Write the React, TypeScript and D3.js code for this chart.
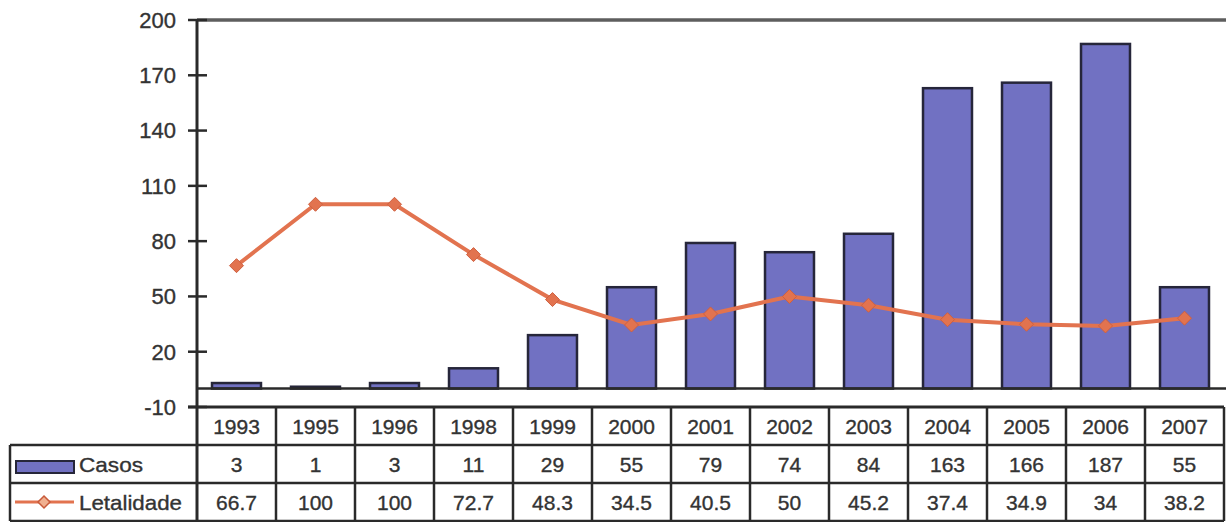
import React from "react";
import * as d3 from "d3";

const years = ["1993","1995","1996","1998","1999","2000","2001","2002","2003","2004","2005","2006","2007"];
const casos = [3,1,3,11,29,55,79,74,84,163,166,187,55];
const letalidade = [66.7,100,100,72.7,48.3,34.5,40.5,50,45.2,37.4,34.9,34,38.2];
const yTicks = [-10,20,50,80,110,140,170,200];
const seriesNames = ["Casos","Letalidade"];

const W = 1226, H = 522;
const BAR = "#7171c2";
const LINE = "#e2734f";
const INK = "#2a2a2a";
const FONT = "'Liberation Sans', Arial, sans-serif";

export default function App() {
  const x = d3.scaleBand<string>().domain(years).range([197, 1224]).paddingInner(0.38).paddingOuter(0.19);
  const y = d3.scaleLinear().domain([-10, 200]).range([407, 20]);
  const colW = (1224 - 197) / years.length;
  const rows = [407, 445, 483, 521];
  const line = d3.line<number>().x((_, i) => x(years[i])! + x.bandwidth() / 2).y(d => y(d));
  const diamond = (cx: number, cy: number, r: number) => `M${cx},${cy - r}L${cx + r},${cy}L${cx},${cy + r}L${cx - r},${cy}Z`;
  const txt = { fill: "#333", stroke: "#333", strokeWidth: 0.35 };

  return (
    <svg width={W} height={H} style={{ position: "absolute", left: 0, top: 0, background: "#fff" }} fontFamily={FONT}>
      <line x1={197} x2={W} y1={y(200)} y2={y(200)} stroke="#5e5e5e" strokeWidth={3.5} />
      {casos.map((v, i) => (
        <rect key={years[i]} x={x(years[i])} y={y(v)} width={x.bandwidth()} height={y(0) - y(v)}
          fill={BAR} stroke="#26263a" strokeWidth={2.5} />
      ))}
      <line x1={197} x2={W} y1={y(0)} y2={y(0)} stroke={INK} strokeWidth={2.5} />
      <path d={line(letalidade)!} fill="none" stroke={LINE} strokeWidth={4} />
      {letalidade.map((v, i) => (
        <path key={i} d={diamond(x(years[i])! + x.bandwidth() / 2, y(v), 7)} fill={LINE} stroke="#cf6040" strokeWidth={1} />
      ))}
      <line x1={197} x2={197} y1={y(200)} y2={521} stroke={INK} strokeWidth={3} />
      {yTicks.map(t => (
        <g key={t}>
          <line x1={188} x2={207} y1={y(t)} y2={y(t)} stroke={INK} strokeWidth={2.5} />
          <text x={176} y={y(t)} dy="0.36em" textAnchor="end" fontSize={22} {...txt}>{t}</text>
        </g>
      ))}
      <line x1={188} x2={1224} y1={rows[0]} y2={rows[0]} stroke={INK} strokeWidth={3} />
      {rows.slice(1).map(r => (
        <line key={r} x1={10} x2={1224} y1={r} y2={r} stroke={INK} strokeWidth={2.5} />
      ))}
      <line x1={10} x2={10} y1={rows[1]} y2={rows[3]} stroke={INK} strokeWidth={2.5} />
      {years.map((yr, i) => (
        <line key={yr} x1={197 + (i + 1) * colW} x2={197 + (i + 1) * colW} y1={rows[0]} y2={rows[3]} stroke={INK} strokeWidth={2.5} />
      ))}
      {years.map((yr, i) => {
        const cx = 197 + (i + 0.5) * colW;
        return (
          <g key={yr} fontSize={21} textAnchor="middle" {...txt}>
            <text x={cx} y={(rows[0] + rows[1]) / 2} dy="0.36em">{yr}</text>
            <text x={cx} y={(rows[1] + rows[2]) / 2} dy="0.36em">{casos[i]}</text>
            <text x={cx} y={(rows[2] + rows[3]) / 2} dy="0.36em">{letalidade[i]}</text>
          </g>
        );
      })}
      <rect x={16} y={461} width={58} height={12} fill={BAR} stroke="#26263a" strokeWidth={2} />
      <text x={79} y={(rows[1] + rows[2]) / 2} dy="0.36em" fontSize={21} textLength={64} lengthAdjust="spacingAndGlyphs" {...txt}>{seriesNames[0]}</text>
      <line x1={15} x2={74} y1={502} y2={502} stroke={LINE} strokeWidth={3} />
      <path d={diamond(44, 502, 6)} fill="#f0b090" stroke="#c85a3a" strokeWidth={1.5} />
      <text x={79} y={(rows[2] + rows[3]) / 2} dy="0.36em" fontSize={21} textLength={103} lengthAdjust="spacingAndGlyphs" {...txt}>{seriesNames[1]}</text>
    </svg>
  );
}
